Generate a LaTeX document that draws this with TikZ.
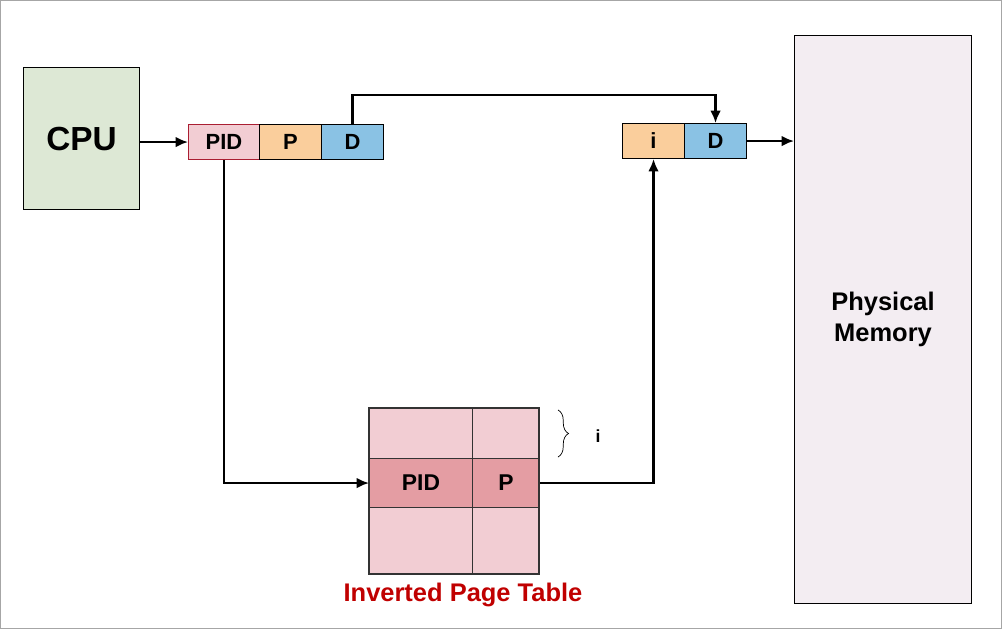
\documentclass[tikz,border=0pt]{standalone}
\usepackage{fontspec}
\setmainfont{Liberation Sans}
\usetikzlibrary{decorations.pathreplacing, arrows.meta}
\definecolor{cpugreen}{RGB}{221,232,213}
\definecolor{pidpink}{RGB}{242,205,211}
\definecolor{pgorange}{RGB}{250,206,156}
\definecolor{offblue}{RGB}{138,194,228}
\definecolor{memlilac}{RGB}{243,237,242}
\definecolor{rowpink}{RGB}{228,157,163}
\definecolor{pidred}{RGB}{170,30,50}
\definecolor{titlered}{RGB}{192,0,0}
\begin{document}
\begin{tikzpicture}[x=0.02cm, y=-0.02cm, >={Latex[length=7pt,width=6pt]}, thick]
    \useasboundingbox (0,0) rectangle (1002,629);
    \draw[gray!70, thin] (0.5,0.5) rectangle (1001.5,628.5);

    % Define styles
    \tikzstyle{box}=[draw=black, semithick, anchor=north west, inner sep=0pt, font=\bfseries\fontsize{12.5}{14}\selectfont]
    \tikzstyle{field}=[box, minimum width=1.24cm, minimum height=0.7cm]
    \tikzstyle{cell}=[draw=black!80, semithick, anchor=north west, inner sep=0pt, fill=pidpink, font=\bfseries\fontsize{13}{15}\selectfont]
    \tikzstyle{link}=[->, line width=1.2pt]

    \node[box, fill=cpugreen, minimum width=2.32cm, minimum height=2.84cm, font=\bfseries\fontsize{19}{22}\selectfont] (cpu) at (23,67) {CPU};

    \node[field, fill=pidpink, draw=pidred, minimum width=1.42cm] (pid) at (188,124) {PID};
    \node[field, fill=pgorange] (p) at (259,124) {P};
    \node[field, fill=offblue] (d) at (321,124) {D};

    \node[field, fill=pgorange] (fi) at (622,123) {i};
    \node[field, fill=offblue] (fd) at (684,123) {D};

    \node[box, fill=memlilac, minimum width=3.54cm, minimum height=11.36cm, align=center, font=\bfseries\fontsize{14.5}{18}\selectfont] (mem) at (794,35) {Physical\\Memory};

    \node[cell, minimum width=2.06cm, minimum height=1.0cm] (t1) at (369,408) {};
    \node[cell, minimum width=1.34cm, minimum height=1.0cm] (t2) at (472,408) {};
    \node[cell, fill=rowpink, minimum width=2.06cm, minimum height=0.98cm] (tpid) at (369,458) {PID};
    \node[cell, fill=rowpink, minimum width=1.34cm, minimum height=0.98cm] (tp) at (472,458) {P};
    \node[cell, minimum width=2.06cm, minimum height=1.34cm] (t5) at (369,507) {};
    \node[cell, minimum width=1.34cm, minimum height=1.34cm] (t6) at (472,507) {};
    \draw[thick, black!80] (369,408) rectangle (539,574);

    \node[text=titlered, font=\bfseries\fontsize{14.5}{16}\selectfont] (title) at (463,595) {Inverted Page Table};

    \draw[thin, decorate, decoration={brace, amplitude=6pt}] (558,410) -- (558,457);
    \node[font=\bfseries\fontsize{10}{12}\selectfont] (ilab) at (598,436) {i};

    \coordinate (bend) at (fd.north |- 0,95);
    \draw[link] (cpu.east |- pid.west) -- (pid.west);
    \draw[link] (d.north) |- (bend) -- (fd.north);
    \draw[link] (pid.south) |- (tpid.west);
    \draw[link] (tp.east) -| (fi.south);
    \draw[link] (fd.east) -- (mem.west |- fd.east);
\end{tikzpicture}
\end{document}
